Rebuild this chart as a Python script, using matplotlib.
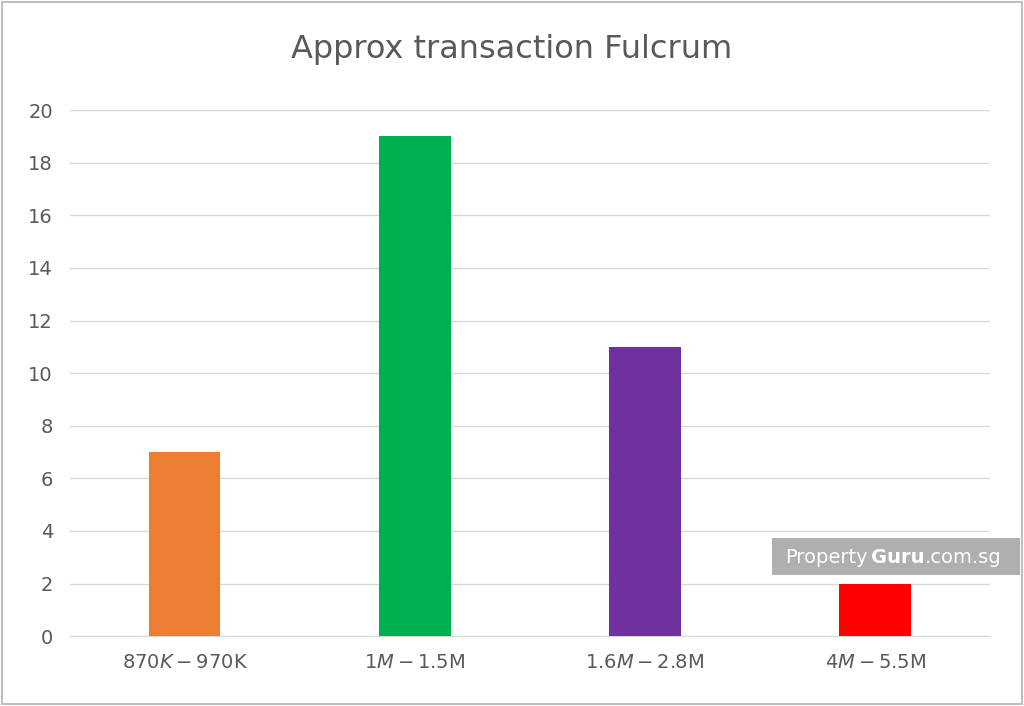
import matplotlib.pyplot as plt
from matplotlib.patches import Rectangle

categories = ["$870K - $970K", "$1M - $1.5M", "$1.6M - $2.8M", "$4M - $5.5M"]
counts = [7, 19, 11, 2]
colors = ["#ED7D31", "#00B050", "#7030A0", "#FF0000"]

fig = plt.figure(figsize=(10.24, 7.06), dpi=100)
ax = fig.add_axes([0.068, 0.099, 0.899, 0.745])

ax.bar(range(len(categories)), counts, width=0.31, color=colors, zorder=3)
ax.set_ylim(0, 20)
ax.set_xlim(-0.5, 3.5)
ax.set_yticks(range(0, 21, 2))
ax.set_xticks(range(len(categories)))
ax.set_xticklabels(categories)
ax.yaxis.grid(True, color="#d9d9d9", linewidth=1, zorder=0)
for s in ["top", "right", "left"]:
    ax.spines[s].set_visible(False)
ax.spines["bottom"].set_color("#d9d9d9")
ax.tick_params(length=0, labelsize=14, colors="#595959", pad=12)

fig.text(0.5, 0.93, "Approx transaction Fulcrum", ha="center", va="center",
         fontsize=23, color="#595959")

# outer border
fig.patches.append(Rectangle((0.002, 0.003), 0.996, 0.994, transform=fig.transFigure,
                             fill=False, edgecolor="#bfbfbf", linewidth=1.5))

# watermark
fig.patches.append(Rectangle((0.754, 0.185), 0.242, 0.053, transform=fig.transFigure,
                             facecolor="#a6a6a6", edgecolor="none", alpha=0.9, zorder=5))
fig.text(0.767, 0.211, "Property", fontsize=14, color="white", va="center", zorder=6)
fig.text(0.851, 0.211, "Guru", fontsize=14, color="white", va="center",
         fontweight="bold", zorder=6)
fig.text(0.903, 0.211, ".com.sg", fontsize=14, color="white", va="center", zorder=6)

fig.savefig("out.png", dpi=100)
